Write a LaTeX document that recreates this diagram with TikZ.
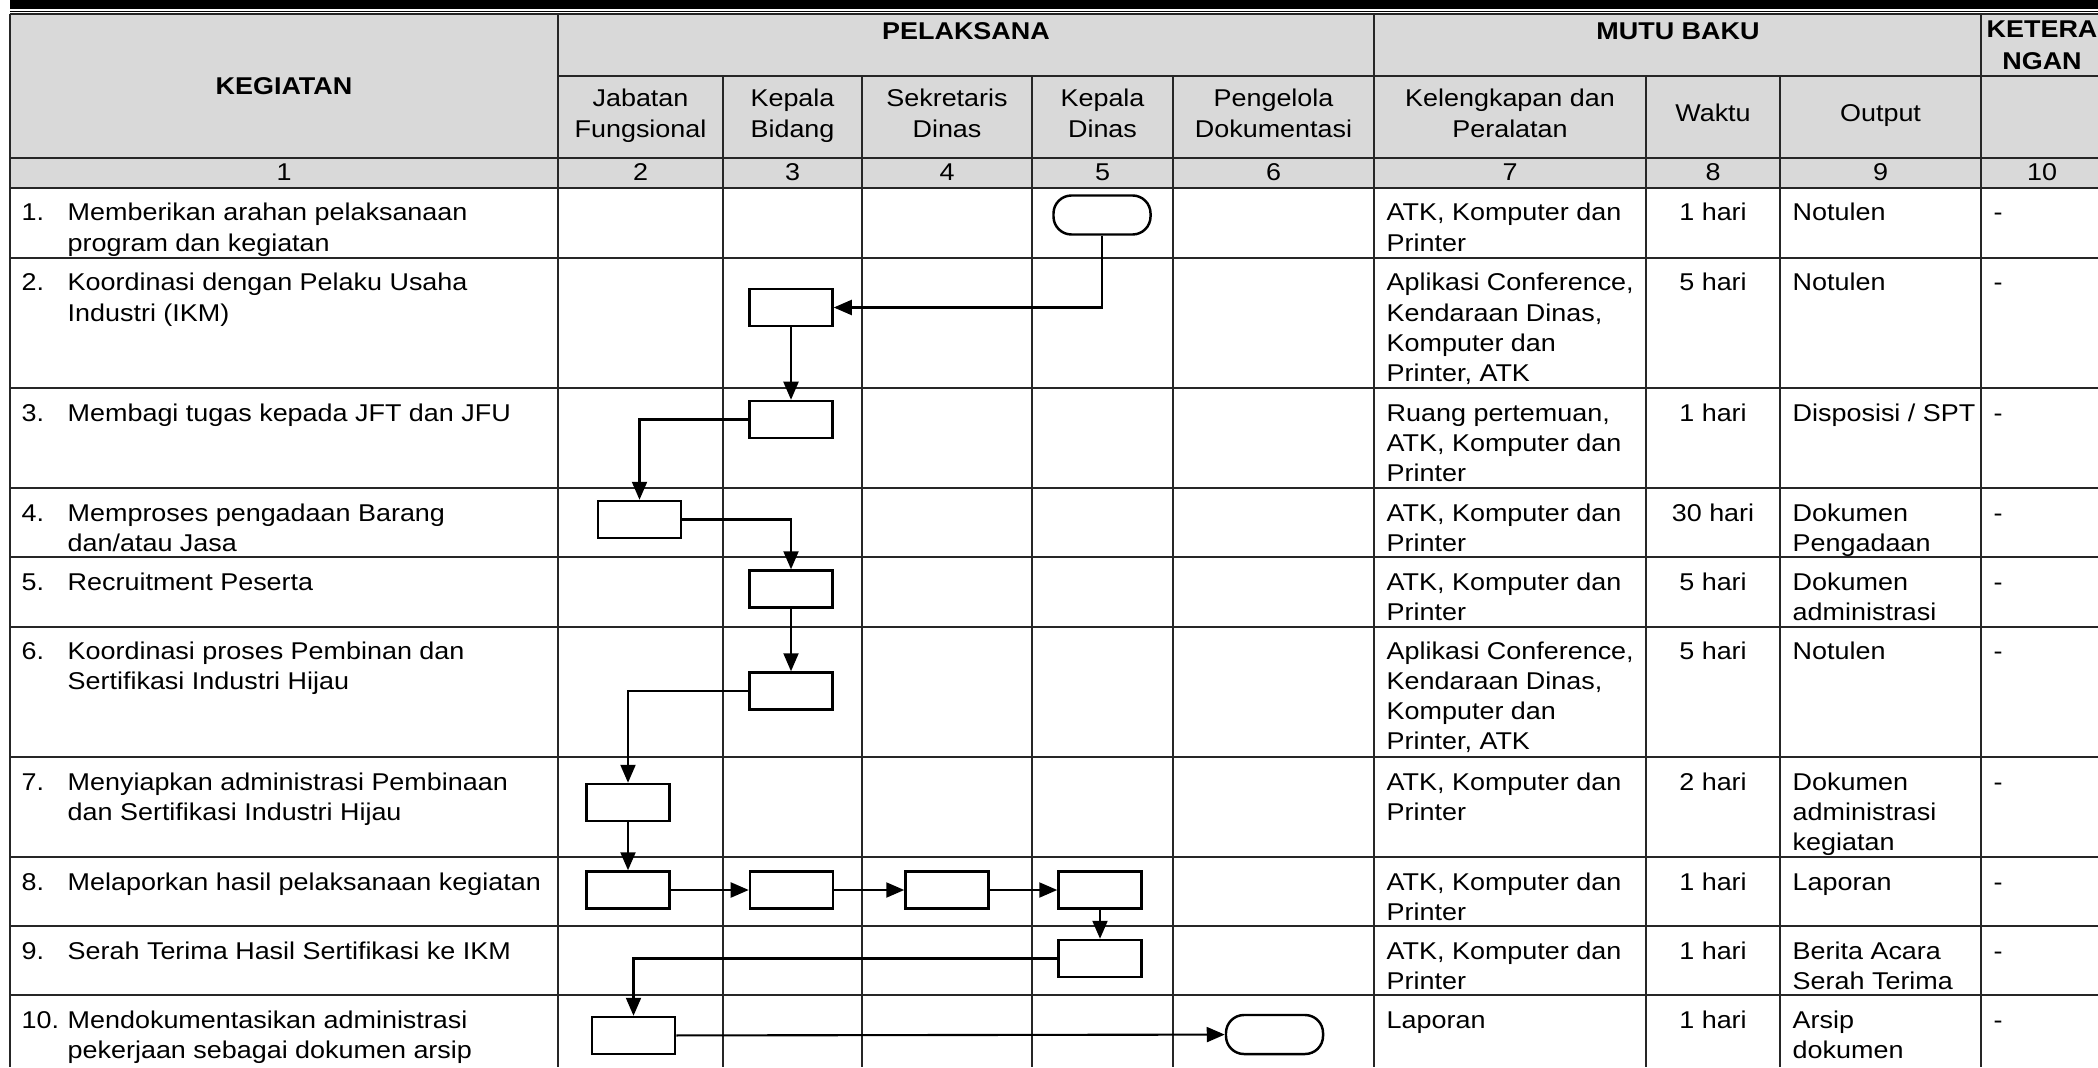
\documentclass[tikz,border=0pt]{standalone}
\usepackage{fontspec}
\setmainfont{Liberation Sans}[FakeStretch=1.11]
\usetikzlibrary{arrows.meta}
\definecolor{abu}{HTML}{D9D9D9}
\newcommand{\selkiri}[1]{\begin{tabular}[t]{@{}l@{}}#1\end{tabular}}
\newcommand{\seltengah}[1]{\begin{tabular}[t]{@{}c@{}}#1\end{tabular}}

\begin{document}
\begin{tikzpicture}[x=0.01cm, y=-0.01cm,
    every node/.style={inner sep=0pt, font=\fontsize{6.9}{8.6}\selectfont},
    sel/.style={anchor=base west},
    tengah/.style={anchor=base},
    judul/.style={font=\fontsize{6.9}{9.2}\selectfont\bfseries, align=center},
    kotak/.style={draw, line width=0.7pt, minimum width=0.83cm, minimum height=0.37cm},
    ujung/.style={draw, line width=0.7pt, rounded corners=0.18cm, minimum width=0.97cm, minimum height=0.39cm},
    garis/.style={line width=0.4pt, black!85},
    panah/.style={line width=0.6pt, -{Triangle[length=1.8mm, width=1.5mm]}}]
    \useasboundingbox (0,0) rectangle (2098,1067);

    % kepala tabel
    \fill (10,0) rectangle (2098,9);
    \fill[abu] (10,14) rectangle (2098,188);
    \draw[line width=0.3pt] (10,11.5) -- (2098,11.5);
    \draw[garis] (10,14) -- (2098,14);
    \draw[garis] (558,76) -- (2098,76);
    \draw[garis] (10,158) -- (2098,158);
    \draw[garis] (10,188) -- (2098,188) (10,258) -- (2098,258) (10,388) -- (2098,388)
        (10,488) -- (2098,488) (10,557) -- (2098,557) (10,627) -- (2098,627)
        (10,757) -- (2098,757) (10,857) -- (2098,857) (10,926) -- (2098,926)
        (10,995) -- (2098,995);
    \draw[garis] (10,14) -- (10,1067) (558,14) -- (558,1067) (1374,14) -- (1374,1067)
        (1981,14) -- (1981,1067);
    \draw[garis] (723,76) -- (723,1067) (862,76) -- (862,1067) (1032,76) -- (1032,1067)
        (1173,76) -- (1173,1067) (1646,76) -- (1646,1067) (1780,76) -- (1780,1067);

    \node[judul] (kegiatan) at (284,86) {KEGIATAN};
    \node[judul] (pelaksana) at (966,31) {PELAKSANA};
    \node[judul] (mutu) at (1678,31) {MUTU BAKU};
    \node[judul] (keterangan) at (2042,45) {KETERA\\NGAN};

    \node[tengah] (h2) at (640.5,107) {\seltengah{Jabatan\\Fungsional}};
    \node[tengah] (h3) at (792.5,107) {\seltengah{Kepala\\Bidang}};
    \node[tengah] (h4) at (947,107) {\seltengah{Sekretaris\\Dinas}};
    \node[tengah] (h5) at (1102.5,107) {\seltengah{Kepala\\Dinas}};
    \node[tengah] (h6) at (1273.5,107) {\seltengah{Pengelola\\Dokumentasi}};
    \node[tengah] (h7) at (1510,107) {\seltengah{Kelengkapan dan\\Peralatan}};
    \node[tengah] (h8) at (1713,122) {Waktu};
    \node[tengah] (h9) at (1880.5,122) {Output};

    \node[tengah] (no1) at (284,181) {1};
    \node[tengah] (no2) at (640.5,181) {2};
    \node[tengah] (no3) at (792.5,181) {3};
    \node[tengah] (no4) at (947,181) {4};
    \node[tengah] (no5) at (1102.5,181) {5};
    \node[tengah] (no6) at (1273.5,181) {6};
    \node[tengah] (no7) at (1510,181) {7};
    \node[tengah] (no8) at (1713,181) {8};
    \node[tengah] (no9) at (1880.5,181) {9};
    \node[tengah] (no10) at (2042,181) {10};

    % kolom kegiatan
    \node[sel] (n1) at (21,221) {1.};
    \node[sel] (k1) at (67,221) {\selkiri{Memberikan arahan pelaksanaan\\program dan kegiatan}};
    \node[sel] (n2) at (21,291) {2.};
    \node[sel] (k2) at (67,291) {\selkiri{Koordinasi dengan Pelaku Usaha\\Industri (IKM)}};
    \node[sel] (n3) at (21,421) {3.};
    \node[sel] (k3) at (67,421) {Membagi tugas kepada JFT dan JFU};
    \node[sel] (n4) at (21,521) {4.};
    \node[sel] (k4) at (67,521) {\selkiri{Memproses pengadaan Barang\\dan/atau Jasa}};
    \node[sel] (n5) at (21,590) {5.};
    \node[sel] (k5) at (67,590) {Recruitment Peserta};
    \node[sel] (n6) at (21,659) {6.};
    \node[sel] (k6) at (67,659) {\selkiri{Koordinasi proses Pembinan dan\\Sertifikasi Industri Hijau}};
    \node[sel] (n7) at (21,790) {7.};
    \node[sel] (k7) at (67,790) {\selkiri{Menyiapkan administrasi Pembinaan\\dan Sertifikasi Industri Hijau}};
    \node[sel] (n8) at (21,890) {8.};
    \node[sel] (k8) at (67,890) {Melaporkan hasil pelaksanaan kegiatan};
    \node[sel] (n9) at (21,959) {9.};
    \node[sel] (k9) at (67,959) {Serah Terima Hasil Sertifikasi ke IKM};
    \node[sel] (n10) at (21,1028) {10.};
    \node[sel] (k10) at (67,1028) {\selkiri{Mendokumentasikan administrasi\\pekerjaan sebagai dokumen arsip}};

    % mutu baku
    \node[sel] (alat1) at (1386,221) {\selkiri{ATK, Komputer dan\\Printer}};
    \node[sel] (alat2) at (1386,291) {\selkiri{Aplikasi Conference,\\Kendaraan Dinas,\\Komputer dan\\Printer, ATK}};
    \node[sel] (alat3) at (1386,421) {\selkiri{Ruang pertemuan,\\ATK, Komputer dan\\Printer}};
    \node[sel] (alat4) at (1386,521) {\selkiri{ATK, Komputer dan\\Printer}};
    \node[sel] (alat5) at (1386,590) {\selkiri{ATK, Komputer dan\\Printer}};
    \node[sel] (alat6) at (1386,659) {\selkiri{Aplikasi Conference,\\Kendaraan Dinas,\\Komputer dan\\Printer, ATK}};
    \node[sel] (alat7) at (1386,790) {\selkiri{ATK, Komputer dan\\Printer}};
    \node[sel] (alat8) at (1386,890) {\selkiri{ATK, Komputer dan\\Printer}};
    \node[sel] (alat9) at (1386,959) {\selkiri{ATK, Komputer dan\\Printer}};
    \node[sel] (alat10) at (1386,1028) {Laporan};

    \node[tengah] (w1) at (1713,221) {1 hari};
    \node[tengah] (w2) at (1713,291) {5 hari};
    \node[tengah] (w3) at (1713,421) {1 hari};
    \node[tengah] (w4) at (1713,521) {30 hari};
    \node[tengah] (w5) at (1713,590) {5 hari};
    \node[tengah] (w6) at (1713,659) {5 hari};
    \node[tengah] (w7) at (1713,790) {2 hari};
    \node[tengah] (w8) at (1713,890) {1 hari};
    \node[tengah] (w9) at (1713,959) {1 hari};
    \node[tengah] (w10) at (1713,1028) {1 hari};

    \node[sel] (o1) at (1792,221) {Notulen};
    \node[sel] (o2) at (1792,291) {Notulen};
    \node[sel] (o3) at (1792,421) {Disposisi / SPT};
    \node[sel] (o4) at (1792,521) {\selkiri{Dokumen\\Pengadaan}};
    \node[sel] (o5) at (1792,590) {\selkiri{Dokumen\\administrasi}};
    \node[sel] (o6) at (1792,659) {Notulen};
    \node[sel] (o7) at (1792,790) {\selkiri{Dokumen\\administrasi\\kegiatan}};
    \node[sel] (o8) at (1792,890) {Laporan};
    \node[sel] (o9) at (1792,959) {\selkiri{Berita Acara\\Serah Terima}};
    \node[sel] (o10) at (1792,1028) {\selkiri{Arsip\\dokumen}};

    \node[sel] (c1) at (1993,221) {-};
    \node[sel] (c2) at (1993,291) {-};
    \node[sel] (c3) at (1993,421) {-};
    \node[sel] (c4) at (1993,521) {-};
    \node[sel] (c5) at (1993,590) {-};
    \node[sel] (c6) at (1993,659) {-};
    \node[sel] (c7) at (1993,790) {-};
    \node[sel] (c8) at (1993,890) {-};
    \node[sel] (c9) at (1993,959) {-};
    \node[sel] (c10) at (1993,1028) {-};

    % bagan alir
    \node[ujung] (t1) at (1102,215) {};
    \node[kotak] (b2) at (791,307.5) {};
    \node[kotak] (b3) at (791,419.5) {};
    \node[kotak] (b4) at (639.5,519.5) {};
    \node[kotak] (b5) at (791,589) {};
    \node[kotak] (b6) at (791,691) {};
    \node[kotak] (b7) at (628,802.5) {};
    \node[kotak] (b8a) at (628,890) {};
    \node[kotak] (b8b) at (791.5,890) {};
    \node[kotak] (b8c) at (947,890) {};
    \node[kotak] (b8d) at (1100,890) {};
    \node[kotak] (b9) at (1100,958.5) {};
    \node[kotak] (b10) at (633.5,1035.5) {};
    \node[ujung] (t10) at (1274.5,1034.5) {};

    \draw[panah] (t1.south) |- (b2.east);
    \draw[panah] (b2) -- (b3);
    \draw[panah] (b3.west) -| (b4.north);
    \draw[panah] (b4.east) -| (b5.north);
    \draw[panah] (b5) -- (b6);
    \draw[panah] (b6.west) -| (b7.north);
    \draw[panah] (b7) -- (b8a);
    \draw[panah] (b8a) -- (b8b);
    \draw[panah] (b8b) -- (b8c);
    \draw[panah] (b8c) -- (b8d);
    \draw[panah] (b8d) -- (b9);
    \draw[panah] (b9.west) -| (b10.north);
    \draw[panah] (b10) -- (t10);
\end{tikzpicture}
\end{document}
